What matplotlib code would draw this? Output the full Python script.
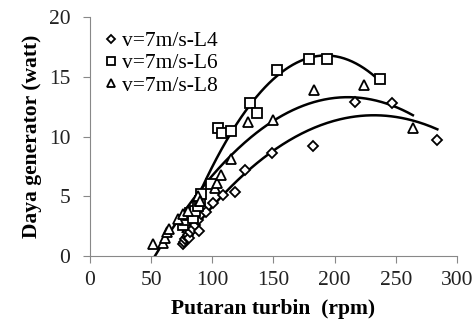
import numpy as np
from matplotlib import pyplot as plt

plt.rcParams['font.family'] = ['Liberation Serif', 'DejaVu Serif']

# v=7m/s-L4
rpm_l4 = [76, 77, 78, 79, 80, 81, 82, 84, 86, 88, 89, 91, 95, 101, 109, 119, 127, 149, 182, 217, 247, 284]
watt_l4 = [1.0, 1.2, 1.4, 1.6, 1.8, 1.5, 2.0, 2.3, 2.6, 3.0, 2.1, 3.5, 3.7, 4.4, 5.1, 5.4, 7.2, 8.6, 9.2, 12.9, 12.8, 9.7]

# v=7m/s-L6
rpm_l6 = [76, 78, 80, 82, 84, 86, 88, 90, 91, 99, 105, 108, 115, 131, 137, 153, 179, 194, 237]
watt_l6 = [2.6, 3.0, 3.4, 3.6, 3.2, 3.8, 4.2, 4.6, 5.2, 6.0, 10.7, 10.3, 10.5, 12.8, 12.0, 15.6, 16.5, 16.5, 14.8]

# v=7m/s-L8
rpm_l8 = [52, 60, 61, 63, 65, 72, 76, 80, 88, 90, 102, 104, 107, 115, 129, 150, 183, 224, 264]
watt_l8 = [1.0, 1.1, 1.5, 2.0, 2.3, 3.1, 3.5, 3.8, 5.0, 4.6, 5.7, 6.1, 6.8, 8.1, 11.2, 11.4, 13.9, 14.3, 10.7]

series = [
    (rpm_l4, watt_l4, 'D', 5.5, 'v=7m/s-L4'),
    (rpm_l6, watt_l6, 's', 7.5, 'v=7m/s-L6'),
    (rpm_l8, watt_l8, '^', 7, 'v=7m/s-L8'),
]

fig, ax = plt.subplots(figsize=(4.73, 3.27), dpi=100)
fig.subplots_adjust(left=0.19, right=0.966, bottom=0.217, top=0.948)

for x, y, m, ms, lab in series:
    x = np.array(x, float)
    y = np.array(y, float)
    ax.plot(x, y, m, mfc='white', mec='black', mew=1.3, ms=ms, label=lab, zorder=3)
    # excel-style quadratic trendline over the data range
    c = np.polyfit(x, y, 2)
    xs = np.linspace(x.min(), x.max(), 200)
    ax.plot(xs, np.polyval(c, xs), color='black', lw=1.8, zorder=2)

ax.set_xlim(0, 300)
ax.set_ylim(0, 20)
ax.set_xticks(range(0, 301, 50))
ax.set_yticks(range(0, 21, 5))
for s in ['top', 'right']:
    ax.spines[s].set_visible(False)
for s in ['left', 'bottom']:
    ax.spines[s].set_color('#888888')
ax.tick_params(colors='#888888', labelcolor='#222222', labelsize=15.5, length=5)
ax.tick_params(axis='y', pad=9)
ax.tick_params(axis='x', pad=6)

ax.set_xlabel('Putaran turbin  (rpm)', fontsize=15.5, fontweight='bold', labelpad=6)
ax.set_ylabel('Daya generator (watt)', fontsize=15.5, fontweight='bold', labelpad=5)

ax.legend(loc='upper left', frameon=False, fontsize=15.5, handletextpad=0.1,
          borderaxespad=0.2, labelspacing=0.1, handlelength=0.8, markerscale=0.8,
          bbox_to_anchor=(0.0, 0.995))

plt.savefig('out.png', dpi=100)
